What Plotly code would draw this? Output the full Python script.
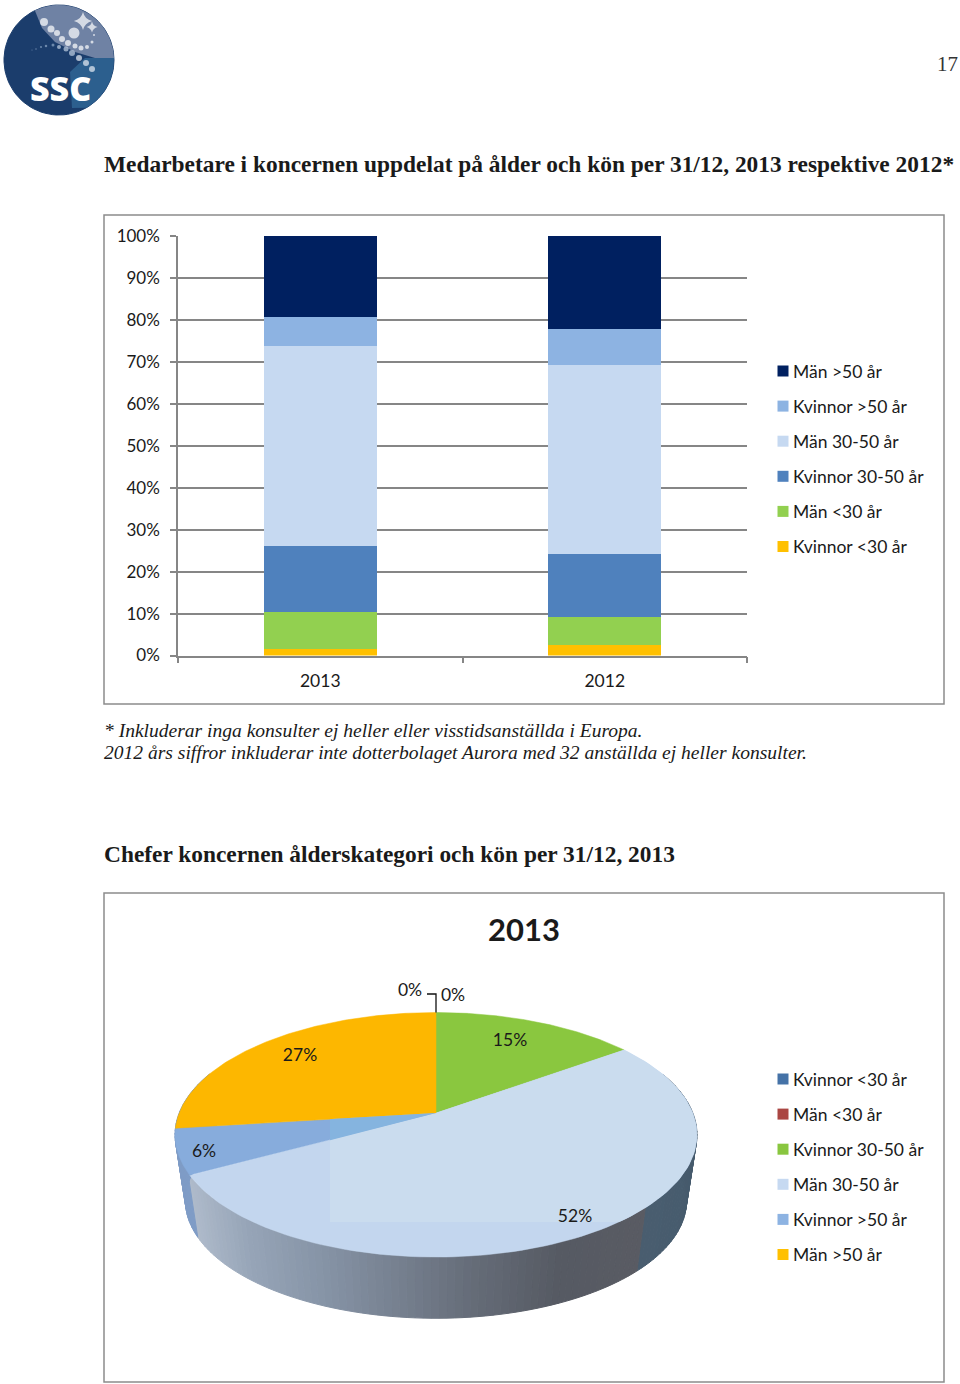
import numpy as np
import plotly.graph_objects as go

# --- data ---
years = ['2013', '2012']
stack_names = ['Kvinnor <30 år', 'Män <30 år', 'Kvinnor 30-50 år', 'Män 30-50 år', 'Kvinnor >50 år', 'Män >50 år']
kvinnor_u30 = [1.5, 2.4]
man_u30 = [8.9, 6.8]
kvinnor_30_50 = [15.6, 15.0]
man_30_50 = [47.8, 45.1]
kvinnor_o50 = [6.8, 8.6]
man_o50 = [19.4, 22.2]
stack_colors = ['#FFC000', '#92D050', '#4F81BD', '#C6D9F1', '#8DB3E2', '#002060']

pie_names = ['Kvinnor <30 år', 'Män <30 år', 'Kvinnor 30-50 år', 'Män 30-50 år', 'Kvinnor >50 år', 'Män >50 år']
pie_values = [0, 0, 15, 52, 6, 27]
pie_colors = ['#4572A7', '#AA4643', '#8AC73F', '#C3D6EE', '#87ACDC', '#FDB700']
legend2_colors = ['#4572A7', '#AA4643', '#89C63F', '#C6D9F1', '#8DB3E2', '#FFC000']
pct_ticks = [0, 10, 20, 30, 40, 50, 60, 70, 80, 90, 100]
pct_labels = ['0%', '10%', '20%', '30%', '40%', '50%', '60%', '70%', '80%', '90%', '100%']

LABEL_FONT = 'Lato'
SERIF = 'Liberation Serif'
INK = '#1a1a1a'
GRID = '#868686'
TEXT_DY = 2.5  # scatter text sits a little high

# pie projection (perspective of a flat disc)
CX, CY = 436, 1113
A, B, K = 256.8, 118.4, 0.178
WALL_SCALE, WALL_DY = 0.96, 67


def rim(theta, s=1.0, dy=0.0):
    u, v = np.sin(theta), np.cos(theta)
    w = 1 + K * v
    return CX + s * A * u / w, CY - s * B * v / w + dy


def hex_rgb(c):
    return [int(c[i:i + 2], 16) for i in (1, 3, 5)]


# wall shading, left to right
wall_x = [175, 190, 250, 330, 400, 470, 560, 641, 642, 700]
wall_c = ['#B0BCCC', '#B0BCCC', '#97A5B8', '#8593A5', '#76808F', '#666D79', '#565A63', '#5A5C64', '#4A5E70', '#465B6D']
wall_rgb = np.array([hex_rgb(c) for c in wall_c])


def wall_color(x):
    return 'rgb(%d,%d,%d)' % tuple(np.interp(x, wall_x, wall_rgb[:, i]) for i in range(3))


fig = go.Figure()

# --- stacked bars ---
series = [kvinnor_u30, man_u30, kvinnor_30_50, man_30_50, kvinnor_o50, man_o50]
for name, vals, col in zip(stack_names, series, stack_colors):
    fig.add_trace(go.Bar(x=years, y=vals, name=name, marker=dict(color=col, line=dict(width=0)),
                         width=0.397, showlegend=False, xaxis='x', yaxis='y'))


def page_trace(**kw):
    # everything below shares one axis pair in page pixels
    fig.add_trace(go.Scatter(xaxis='x2', yaxis='y2', showlegend=False, hoverinfo='skip', **kw))


# --- pie wall ---
edges = np.cumsum([0] + pie_values) / 100 * 2 * np.pi
blue_start, blue_end = edges[4], edges[5]
steps = np.radians(np.arange(70, 292, 1.5))
for t0, t1 in zip(steps[:-1], steps[1:]):
    tt = [t0, t1]
    x1, y1 = rim(np.array(tt))
    x2, y2 = rim(np.array(tt[::-1]), WALL_SCALE, WALL_DY)
    col = '#7F9CC6' if t0 >= blue_start else wall_color((x1.mean() + x2.mean()) / 2)
    page_trace(x=list(x1) + list(x2) + [x1[0]], y=list(y1) + list(y2) + [y1[0]], mode='lines', fill='toself',
               fillcolor=col, line=dict(color=col, width=1))


# --- pie top face ---
def slice_outline(t0, t1):
    tt = np.linspace(t0, t1, 120)
    rx, ry = rim(tt)
    xs = np.concatenate([np.linspace(CX, rx[0], 40), rx, np.linspace(rx[-1], CX, 40)])
    ys = np.concatenate([np.linspace(CY, ry[0], 40), ry, np.linspace(ry[-1], CY, 40)])
    return xs, ys


for val, col, t0, t1 in zip(pie_values, pie_colors, edges[:-1], edges[1:]):
    if val > 0:
        xs, ys = slice_outline(t0, t1)
        page_trace(x=xs, y=ys, mode='lines', fill='toself', fillcolor=col, line=dict(color=col, width=0.5))

# the paler patch that runs through the big slice and the tip of the blue one
xs, ys = slice_outline(edges[3], edges[4])
page_trace(x=np.clip(xs, 330, None), y=np.clip(ys, None, 1222), mode='lines', fill='toself',
           fillcolor='#CADCEE', line=dict(width=0))
xs, ys = slice_outline(edges[4], edges[5])
page_trace(x=np.clip(xs, 330, None), y=ys, mode='lines', fill='toself', fillcolor='#85B4DF', line=dict(width=0))

# leader of the two empty slices
top_x, top_y = rim(0.0)
page_trace(x=[427, top_x, top_x], y=[994, 994, top_y], mode='lines', line=dict(color='#111111', width=1.3))

# pie labels
pie_label_x = [453, 410, 510, 575, 204, 300]
pie_label_y = [994, 989, 1039, 1215, 1150, 1054]
page_trace(x=pie_label_x, y=[y + TEXT_DY for y in pie_label_y], mode='text', text=['%d%%' % v for v in pie_values],
           textposition='middle center', textfont=dict(family=LABEL_FONT, size=17.5, color=INK))

# --- legends ---
legend_x = 783
rows1 = [371 + 35.1 * i for i in range(6)]
rows2 = [1079 + 35.1 * i for i in range(6)]
page_trace(x=[legend_x] * 6, y=rows1, mode='markers',
           marker=dict(symbol='square', size=11, color=stack_colors[::-1], line=dict(width=0)))
page_trace(x=[legend_x + 10] * 6, y=[y + TEXT_DY for y in rows1], mode='text', text=stack_names[::-1],
           textposition='middle right', textfont=dict(family=LABEL_FONT, size=17.5, color=INK))
page_trace(x=[legend_x] * 6, y=rows2, mode='markers',
           marker=dict(symbol='square', size=11, color=legend2_colors, line=dict(width=0)))
page_trace(x=[legend_x + 10] * 6, y=[y + TEXT_DY for y in rows2], mode='text', text=pie_names,
           textposition='middle right', textfont=dict(family=LABEL_FONT, size=17.5, color=INK))

# --- logo ---
circ = np.linspace(0, 2 * np.pi, 90)
page_trace(x=59 + 55 * np.cos(circ), y=60 + 55 * np.sin(circ), mode='lines', fill='toself',
           fillcolor='#1B3D6C', line=dict(color='#1B3D6C', width=1))
# lower right, brighter blue
lo = np.linspace(np.radians(-2), np.radians(60), 30)
page_trace(x=list(59 + 55 * np.cos(lo)) + [72, 70, 85], y=list(60 + 55 * np.sin(lo)) + [108, 72, 58],
           mode='lines', fill='toself', fillcolor='#2C5F8E', line=dict(width=0))
# pale cap at the top right
hi = np.linspace(np.radians(-116), np.radians(-2), 30)
page_trace(x=list(59 + 55 * np.cos(hi)) + [95, 75, 55, 42], y=list(60 + 55 * np.sin(hi)) + [58, 52, 42, 28],
           mode='lines', fill='toself', fillcolor='#6F82A4', line=dict(width=0))

dot_x = [44, 51, 57, 62, 68, 75, 81, 87, 92, 94, 74]
dot_y = [22, 29, 33, 39, 43, 46, 48, 47, 42, 35, 33]
dot_d = [8, 7, 6, 6, 6, 5, 5, 4, 3, 2, 11]
page_trace(x=dot_x, y=dot_y, mode='markers', marker=dict(size=dot_d, color='white', line=dict(width=0)))
arc_x = [32, 36, 41, 46, 53, 59, 66, 72, 79, 86, 92]
arc_y = [50, 49, 47, 46, 45, 47, 49, 53, 58, 63, 69]
arc_d = [1, 1.5, 2, 2.5, 3, 4, 5, 6, 6, 6, 6]
page_trace(x=arc_x, y=arc_y, mode='markers',
           marker=dict(size=arc_d, color=['#8FA9C8'] * 5 + ['#C0D0E2'] * 3 + ['#E8EEF5'] * 3, line=dict(width=0)))
page_trace(x=[83, 92], y=[21, 27], mode='markers',
           marker=dict(symbol='star-diamond', size=[13, 8], color='white', line=dict(width=0)))


# --- texts ---
def note(x, y, text, size, family=SERIF, color=INK, anchor='left', weight=None):
    return dict(x=x, y=y, xref='x2', yref='y2', text=text, showarrow=False, xanchor=anchor, yanchor='middle',
                font=dict(family=family, size=size, color=color, weight=weight))


annotations = [
    note(947, 64, '17', 21, color='#333333', anchor='center'),
    note(102, 164, '<b>Medarbetare i koncernen uppdelat på ålder och kön per 31/12, 2013 respektive 2012*</b>', 23.4),
    note(102, 730, '<i>* Inkluderar inga konsulter ej heller eller visstidsanställda i Europa.</i>', 19.55),
    note(102, 752, '<i>2012 års siffror inkluderar inte dotterbolaget Aurora med 32 anställda ej heller konsulter.</i>', 19.55),
    note(102, 854, '<b>Chefer koncernen ålderskategori och kön per 31/12, 2013</b>', 23.4),
    note(524, 929, '<b>2013</b>', 31, family=LABEL_FONT, anchor='center'),
    note(60, 88, 'SSC', 34, family='Open Sans', color='white', anchor='center', weight=800),
]

frame = dict(type='rect', xref='x2', yref='y2', line=dict(color='#8C8C8C', width=1.5), layer='below')

fig.update_layout(
    template='none',
    width=960,
    height=1384,
    margin=dict(l=0, r=0, t=0, b=0, pad=0),
    paper_bgcolor='white',
    plot_bgcolor='rgba(0,0,0,0)',
    barmode='stack',
    hovermode=False,
    showlegend=False,
    annotations=annotations,
    shapes=[dict(frame, x0=104, x1=944, y0=215, y1=704), dict(frame, x0=104, x1=944, y0=893, y1=1382)],
    xaxis=dict(domain=[178 / 960, 747 / 960], type='category', tickson='boundaries', ticks='outside', ticklen=6,
               tickcolor=GRID, tickwidth=1.5, showline=True, linecolor=GRID, linewidth=1.5, showgrid=False,
               automargin=False, tickfont=dict(family=LABEL_FONT, size=17.5, color=INK), ticklabelstandoff=9),
    yaxis=dict(domain=[1 - 655.5 / 1384, 1 - 236 / 1384], range=[0, 100], tickmode='array', tickvals=pct_ticks,
               ticktext=pct_labels, ticks='outside', ticklen=6, tickcolor=GRID, tickwidth=1.5, showline=True,
               linecolor=GRID, linewidth=1.5, gridcolor=GRID, gridwidth=1.5, zeroline=False, ticklabelstandoff=7,
               automargin=False, tickfont=dict(family=LABEL_FONT, size=17, color=INK)),
    xaxis2=dict(domain=[0, 1], range=[0, 960], visible=False, anchor='y2', automargin=False),
    yaxis2=dict(domain=[0, 1], range=[1384, 0], visible=False, anchor='x2', automargin=False),
)

fig.write_html("out.html", config=dict(displayModeBar=False), post_script="document.body.style.margin='0';")
